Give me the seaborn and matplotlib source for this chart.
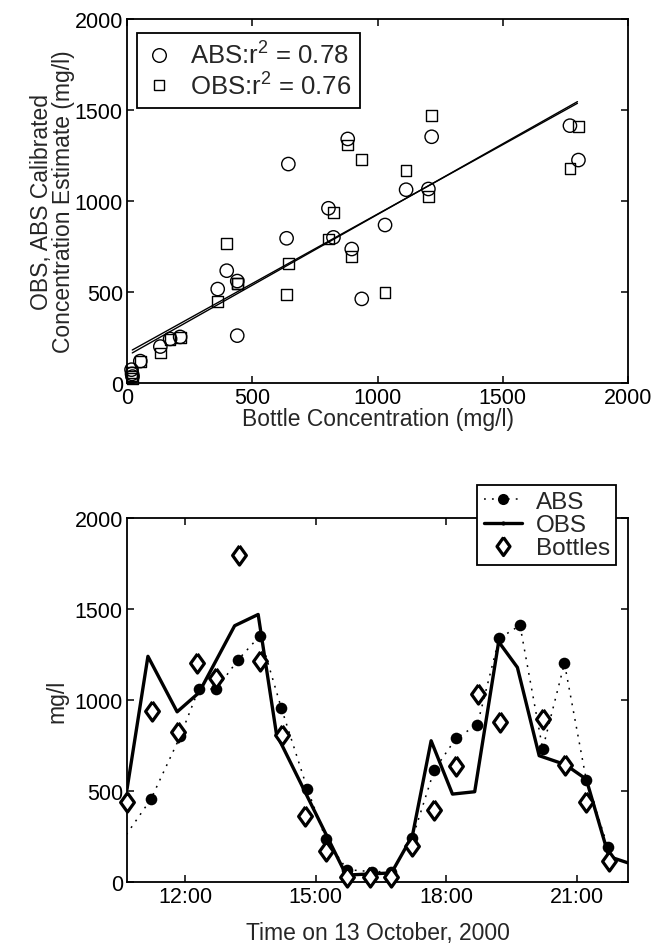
import numpy as np
import pandas as pd
import matplotlib
matplotlib.use("Agg")
import matplotlib.pyplot as plt
import seaborn as sns
from matplotlib.lines import Line2D

# ---------------- data: top scatter ----------------
bottle_conc = [18, 20, 22, 53, 133, 172, 212, 362, 398, 440, 440, 637, 644, 804,
               824, 881, 897, 937, 1030, 1114, 1203, 1216, 1768, 1802]
abs_est = [73, 50, 35, 120, 200, 242, 253, 516, 617, 560, 260, 795, 1203, 960,
           800, 1341, 736, 462, 868, 1062, 1066, 1353, 1414, 1225]
obs_est = [58, 38, 25, 118, 165, 240, 250, 449, 767, 548, 545, 485, 657, 791,
           938, 1308, 696, 1227, 498, 1167, 1026, 1469, 1179, 1410]
fit_x = [21, 1798]
abs_fit_y = [165, 1546]
obs_fit_y = [181, 1537]
abs_label = "ABS:r$^2$ = 0.78"
obs_label = "OBS:r$^2$ = 0.76"

# ---------------- data: bottom time series (hours of 13 Oct 2000) ----------------
abs_time = [10.45, 11.22, 11.89, 12.32, 12.72, 13.22, 13.72, 14.21, 14.81, 15.23,
            15.72, 16.29, 16.73, 17.22, 17.72, 18.22, 18.71, 19.21, 19.69, 20.21,
            20.71, 21.21, 21.71]
abs_val = [190, 456, 800, 1062, 1060, 1221, 1353, 957, 511, 238,
           68, 57, 57, 240, 615, 789, 864, 1338, 1410, 731,
           1202, 562, 190]
obs_time = [10.67, 11.15, 11.82, 12.32, 13.14, 13.68, 14.10, 15.70, 16.23, 16.74,
            17.22, 17.65, 18.14, 18.65, 19.20, 19.63, 20.13, 20.73, 21.21, 21.73, 22.17]
obs_val = [510, 1240, 935, 1040, 1408, 1470, 813, 38, 44, 50,
           254, 776, 483, 496, 1320, 1179, 694, 645, 565, 140, 105]
bottle_time = [10.67, 11.24, 11.85, 12.27, 12.72, 13.24, 13.73, 14.23, 14.75, 15.23,
               15.71, 16.25, 16.73, 17.22, 17.72, 18.22, 18.73, 19.22, 20.21, 20.72,
               21.21, 21.73]
bottle_val = [438, 938, 826, 1205, 1121, 1798, 1212, 806, 360, 170,
              30, 25, 25, 199, 397, 635, 1031, 877, 896, 643,
              441, 117]
time_ticks = [12, 15, 18, 21]
time_labels = ["12:00", "15:00", "18:00", "21:00"]
conc_ticks = [0, 500, 1000, 1500, 2000]

# ---------------- style ----------------
sns.set_theme(style="ticks")
plt.rcParams["font.family"] = ["Liberation Sans", "DejaVu Sans"]
plt.rcParams["mathtext.fontset"] = "custom"
plt.rcParams["mathtext.rm"] = "Liberation Sans"
plt.rcParams["mathtext.default"] = "regular"
plt.rcParams["axes.linewidth"] = 1.3
TICK_FS = 15.5
LAB_FS = 16.5

fig = plt.figure(figsize=(6.71, 9.45), dpi=100)
ax1 = fig.add_axes([0.1893, 0.5937, 0.936 - 0.1893, 0.9788 - 0.5937])
ax2 = fig.add_axes([0.1893, 0.0656, 0.936 - 0.1893, 0.4508 - 0.0656])

def style_axes(ax):
    for s in ax.spines.values():
        s.set_visible(True)
        s.set_color("black")
        s.set_linewidth(1.3)
    ax.tick_params(direction="in", length=5, width=1.1, top=True, right=True,
                   labelsize=TICK_FS, pad=3, colors="black")

# ---------------- top scatter ----------------
scat = pd.DataFrame({"bottle": bottle_conc, "abs": abs_est, "obs": obs_est})
sns.scatterplot(data=scat, x="bottle", y="abs", ax=ax1, marker="o", s=92,
                facecolor="none", edgecolor="black", linewidth=1.0, clip_on=False, zorder=3)
sns.scatterplot(data=scat, x="bottle", y="obs", ax=ax1, marker="s", s=60,
                facecolor="none", edgecolor="black", linewidth=1.0, clip_on=False, zorder=3)
sns.lineplot(x=fit_x, y=abs_fit_y, ax=ax1, color="black", linewidth=1.0)
sns.lineplot(x=fit_x, y=obs_fit_y, ax=ax1, color="black", linewidth=1.0)
ax1.set_xlim(0, 2000)
ax1.set_ylim(0, 2000)
ax1.set_xticks(conc_ticks)
ax1.set_yticks(conc_ticks)
style_axes(ax1)
ax1.set_xlabel("Bottle Concentration (mg/l)", fontsize=LAB_FS, labelpad=-1)
ax1.set_ylabel("OBS, ABS Calibrated\nConcentration Estimate (mg/l)", fontsize=LAB_FS,
               labelpad=-0.5, linespacing=0.95)
h1 = [Line2D([], [], linestyle="none", marker="o", markersize=9.8, markerfacecolor="none",
             markeredgecolor="black", markeredgewidth=1.0),
      Line2D([], [], linestyle="none", marker="s", markersize=7.8, markerfacecolor="none",
             markeredgecolor="black", markeredgewidth=1.0)]
leg1 = ax1.legend(h1, [abs_label, obs_label], loc="upper left", bbox_to_anchor=(0.02, 0.962),
                  borderaxespad=0, fontsize=18.5, frameon=True, fancybox=False, framealpha=1,
                  edgecolor="black", handlelength=1.0, handletextpad=0.7, borderpad=0.35,
                  labelspacing=0.12)
leg1.get_frame().set_linewidth(1.3)

# ---------------- bottom time series ----------------
absdf = pd.DataFrame({"t": abs_time, "v": abs_val})
obsdf = pd.DataFrame({"t": obs_time, "v": obs_val})
botdf = pd.DataFrame({"t": bottle_time, "v": bottle_val})
sns.lineplot(data=absdf, x="t", y="v", ax=ax2, sort=False, estimator=None, color="black",
             linewidth=1.1, linestyle=(0, (1.2, 4)), zorder=2)
sns.scatterplot(data=absdf, x="t", y="v", ax=ax2, marker="o", s=70, color="black",
                edgecolor="black", linewidth=0, zorder=3)
sns.lineplot(data=obsdf, x="t", y="v", ax=ax2, sort=False, estimator=None, color="black",
             linewidth=2.4, zorder=2)
diamond = [(0, 1), (0.72, 0), (0, -1), (-0.72, 0), (0, 1)]
sns.scatterplot(data=botdf, x="t", y="v", ax=ax2, marker=diamond, s=190, facecolor="white",
                edgecolor="black", linewidth=2.3, clip_on=False, zorder=4)
ax2.set_xlim(10.67, 22.17)
ax2.set_ylim(0, 2000)
ax2.set_xticks(time_ticks)
ax2.set_xticklabels(time_labels)
ax2.set_yticks(conc_ticks)
style_axes(ax2)
ax2.set_xlabel("Time on 13 October, 2000", fontsize=LAB_FS, labelpad=10)
ax2.set_ylabel("mg/l", fontsize=LAB_FS, labelpad=4)
h2 = [Line2D([], [], color="black", linewidth=1.1, linestyle=(0, (1.2, 4)), marker="o",
             markersize=8, markerfacecolor="black", markeredgewidth=0),
      Line2D([], [], color="black", linewidth=2.4, marker=".", markersize=4),
      Line2D([], [], linestyle="none", marker=diamond, markersize=13, markerfacecolor="white",
             markeredgecolor="black", markeredgewidth=2.3)]
leg2 = ax2.legend(h2, ["ABS", "OBS", "Bottles"], loc="upper right", bbox_to_anchor=(0.976, 1.091),
                  borderaxespad=0, fontsize=17.5, frameon=True, fancybox=False, framealpha=1,
                  edgecolor="black", handlelength=1.6, handletextpad=0.55, borderpad=0.25,
                  labelspacing=0.05)
leg2.get_frame().set_linewidth(1.3)
leg2.set_zorder(10)

fig.savefig("out.png", dpi=100)
